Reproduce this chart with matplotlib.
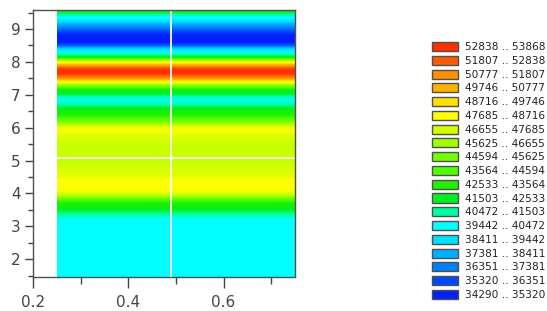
import numpy as np
import matplotlib
matplotlib.use("Agg")
import matplotlib.pyplot as plt
from matplotlib.colors import LinearSegmentedColormap
from matplotlib.patches import Patch

# ---- data ----
# legend class bounds (low .. high), ascending
class_bounds = [34290, 35320, 36351, 37381, 38411, 39442, 40472, 41503, 42533,
                43564, 44594, 45625, 46655, 47685, 48716, 49746, 50777, 51807,
                52838, 53868]
class_colors = ["#0020ff", "#0048ff", "#0080ff", "#00b0ff", "#00e0ff", "#00ffff",
                "#00ffa0", "#00f020", "#20f000", "#50ff00", "#70ff00", "#a0ff00",
                "#d0ff00", "#ffff00", "#ffe000", "#ffb000", "#ff9000", "#ff5a00",
                "#ff3000"]

# profile along y (values constant along x)
y_pos = [1.4, 1.5, 1.6, 1.7, 1.8, 1.9, 2.0, 2.1, 2.2, 2.3, 2.4, 2.5, 2.6, 2.7,
         2.8, 2.9, 3.0, 3.1, 3.2, 3.3, 3.4, 3.5, 3.6, 3.7, 3.8, 3.9, 4.0, 4.1,
         4.2, 4.3, 4.4, 4.5, 4.6, 4.7, 4.8, 4.9, 5.0, 5.1, 5.2, 5.3, 5.4, 5.5,
         5.6, 5.7, 5.8, 5.9, 6.0, 6.1, 6.2, 6.3, 6.4, 6.5, 6.6, 6.7, 6.8, 6.85,
         6.9, 6.95, 7.0, 7.1, 7.2, 7.3, 7.4, 7.5, 7.6, 7.7, 7.8, 7.9, 8.0, 8.1,
         8.2, 8.3, 8.4, 8.5, 8.6, 8.7, 8.8, 8.9, 9.0, 9.1, 9.2, 9.3, 9.4, 9.45,
         9.5, 9.6]
z_vals = [39957, 39957, 39957, 39957, 39957, 39957, 39957, 39957, 39957, 39957,
          39957, 39957, 39957, 39957, 39957, 39957, 39957, 39957, 39957, 40500,
          41200, 42000, 42500, 43000, 44000, 46000, 47500, 48000, 48200, 48300,
          48100, 47700, 47400, 47300, 47200, 47000, 46950, 46900, 46900, 46950,
          47000, 47100, 47150, 47300, 47600, 48000, 47800, 46500, 45000, 43800,
          43000, 42500, 42000, 41000, 40400, 40000, 40400, 41000, 41700, 42300,
          43500, 46000, 48500, 51000, 52600, 53600, 52800, 50500, 48000, 44000,
          41200, 40000, 38800, 36300, 34700, 34400, 34600, 35600, 36500, 37500,
          38500, 39700, 40300, 41000, 41800, 42300]
x_pos = [0.25, 0.75]

x_ticks = [0.2, 0.4, 0.6]
y_ticks = [2, 3, 4, 5, 6, 7, 8, 9]
v_line_x = 0.49
h_line_y = 5.08

# ---- figure ----
fig = plt.figure(figsize=(5.47, 3.11), dpi=100)
ax = fig.add_axes([33 / 547, 1 - 276.5 / 311, (295 - 33) / 547, (276.5 - 10) / 311])

lo, hi = class_bounds[0], class_bounds[-1]
n = len(class_colors)
nodes = [0.0] + [(i + 0.5) / n for i in range(n)] + [1.0]
cols = [class_colors[0]] + class_colors + [class_colors[-1]]
cmap = LinearSegmentedColormap.from_list("bands", list(zip(nodes, cols)))

X, Y = np.meshgrid(x_pos, y_pos)
Z = np.tile(np.array(z_vals, dtype=float)[:, None], (1, len(x_pos)))
ax.contourf(X, Y, Z, levels=np.linspace(lo, hi, n * 5 + 1), cmap=cmap,
            vmin=lo, vmax=hi, antialiased=False)

ax.axvline(v_line_x, color="white", lw=1.3)
ax.axhline(h_line_y, color="white", lw=1.3)

ax.set_xlim(0.2, 0.75)
ax.set_ylim(1.47, 9.58)
ax.set_xticks(x_ticks)
ax.set_xticklabels([f"{t:.1f}" for t in x_ticks])
ax.set_xticks([0.3, 0.5, 0.7], minor=True)
ax.set_yticks(y_ticks)
ax.set_yticks([1.5 + i for i in range(9)], minor=True)

tc = "#444444"
for s in ax.spines.values():
    s.set_color("#505050")
    s.set_linewidth(1.0)
ax.tick_params(axis="x", which="major", length=8, width=1, color=tc,
               labelcolor=tc, labelsize=11, pad=5)
ax.tick_params(axis="x", which="minor", length=5, width=1, color=tc)
ax.tick_params(axis="y", which="major", length=6, width=1, color=tc,
               labelcolor=tc, labelsize=11, pad=3)
ax.tick_params(axis="y", which="minor", length=3.5, width=1, color=tc)

# legend (descending order)
handles = []
for i in range(n - 1, -1, -1):
    handles.append(Patch(facecolor=class_colors[i], edgecolor="#505050", lw=1.0,
                         label=f"{class_bounds[i]} .. {class_bounds[i + 1]}"))
fig.legend(handles=handles, loc="upper left",
           bbox_to_anchor=(432 / 547, 1 - 42 / 311), bbox_transform=fig.transFigure,
           frameon=False, fontsize=7.6, handlelength=2.5, handleheight=0.95,
           labelspacing=0.34, handletextpad=0.6, borderpad=0, borderaxespad=0,
           labelcolor="#222222")

fig.savefig("out.png", dpi=100)
